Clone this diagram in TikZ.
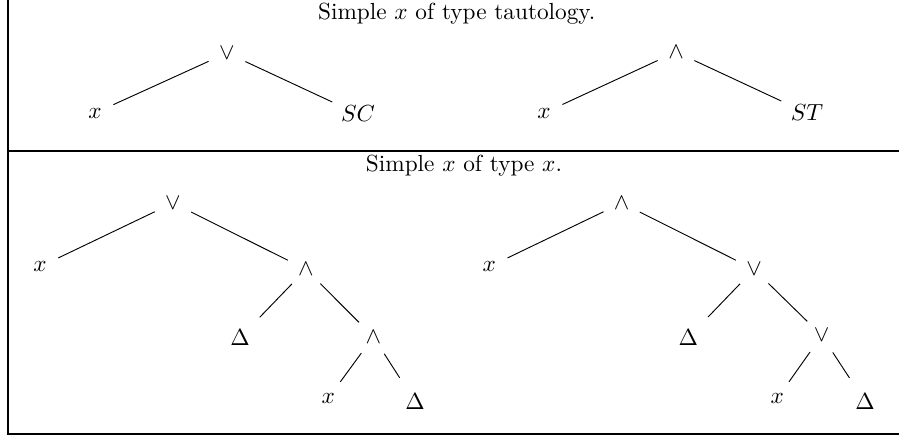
\documentclass[tikz,border=0pt]{standalone}
\begin{document}
\begin{tikzpicture}[x=0.4296pt,y=-0.4296pt,
  nd/.style={circle,inner sep=0pt,minimum size=17pt},
  wide/.style={circle,inner sep=0pt,minimum size=24pt},
  big/.style={circle,inner sep=0pt,minimum size=24pt},
  edge/.style={line width=0.4pt},
  frame/.style={line width=0.9pt},
  title/.style={anchor=base,inner sep=0pt}]
\useasboundingbox (0,0) rectangle (899,438);
% frame
\coordinate (tl) at (8,0);
\coordinate (ml) at (8,151);
\coordinate (mr) at (899,151);
\coordinate (bl) at (8,434);
\coordinate (br) at (899,434);
\draw[frame] (tl) -- (bl) -- (br);
\draw[frame] (ml) -- (mr);
% titles
\node[title] (t1) at (456.7,19.5) {Simple $x$ of type tautology.};
\node[title] (t2) at (464,171.5) {Simple $x$ of type $x$.};
% top left tree
\node[nd] (a0) at (227,53) {$\vee$};
\node[nd] (a1) at (95,113) {$x$};
\node[wide] (a2) at (358,114) {$SC$};
\draw[edge] (a0) -- (a1);
\draw[edge] (a0) -- (a2);
% top right tree
\node[nd] (b0) at (676,52) {$\wedge$};
\node[nd] (b1) at (544,113) {$x$};
\node[wide] (b2) at (807,113) {$ST$};
\draw[edge] (b0) -- (b1);
\draw[edge] (b0) -- (b2);
% bottom left tree
\node[nd] (c0) at (173,203) {$\vee$};
\node[nd] (c1) at (40,266.7) {$x$};
\node[nd] (c2) at (306,269.3) {$\wedge$};
\node[big] (c3) at (240,337.7) {$\Delta$};
\node[nd] (c4) at (373.3,336.7) {$\wedge$};
\node[nd] (c5) at (328.3,398.3) {$x$};
\node[big] (c6) at (415,401.7) {$\Delta$};
\draw[edge] (c0) -- (c1);
\draw[edge] (c0) -- (c2);
\draw[edge] (c2) -- (c3);
\draw[edge] (c2) -- (c4);
\draw[edge] (c4) -- (c5);
\draw[edge] (c4) -- (c6);
% bottom right tree
\node[nd] (d0) at (621.7,203) {$\wedge$};
\node[nd] (d1) at (489.3,266.7) {$x$};
\node[nd] (d2) at (754,269.3) {$\vee$};
\node[big] (d3) at (688.3,337.5) {$\Delta$};
\node[nd] (d4) at (821.7,335.5) {$\vee$};
\node[nd] (d5) at (777.3,398.3) {$x$};
\node[big] (d6) at (865,401.7) {$\Delta$};
\draw[edge] (d0) -- (d1);
\draw[edge] (d0) -- (d2);
\draw[edge] (d2) -- (d3);
\draw[edge] (d2) -- (d4);
\draw[edge] (d4) -- (d5);
\draw[edge] (d4) -- (d6);
\end{tikzpicture}
\end{document}
